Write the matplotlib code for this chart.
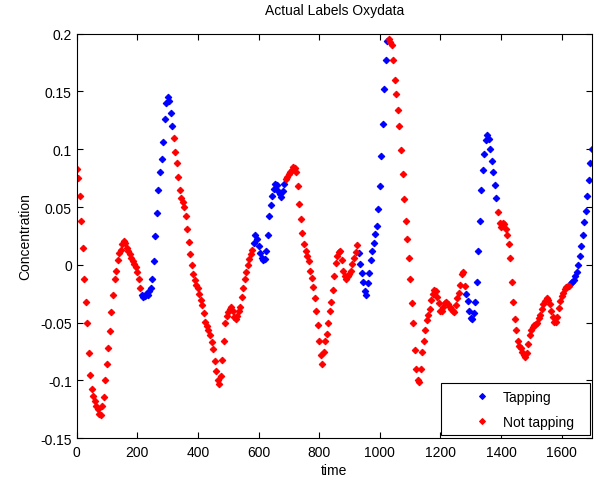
import numpy as np
import matplotlib
matplotlib.use("Agg")
import matplotlib.pyplot as plt
from matplotlib.lines import Line2D

plt.rcParams['font.family'] = ['Liberation Sans', 'DejaVu Sans']

sample_step = 5
conc = [
    0.083, 0.075, 0.060, 0.038, 0.015, -0.012, -0.032, -0.050, -0.076, -0.095,      # 0-45
    -0.107, -0.113, -0.118, -0.122, -0.125, -0.129, -0.130, -0.122, -0.114, -0.100,  # 50-95
    -0.086, -0.072, -0.057, -0.041, -0.026, -0.012, -0.005, 0.004, 0.010, 0.013,     # 100-145
    0.018, 0.021, 0.019, 0.015, 0.012, 0.009, 0.006, 0.003, 0.001, -0.002,           # 150-195
    -0.006, -0.012, -0.020, -0.026, -0.028, -0.027, -0.025, -0.026, -0.023, -0.020,  # 200-245
    -0.012, 0.003, 0.025, 0.045, 0.065, 0.080, 0.092, 0.106, 0.126, 0.140,           # 250-295
    0.145, 0.142, 0.131, 0.120, 0.110, 0.098, 0.088, 0.076, 0.065, 0.058,            # 300-345
    0.054, 0.050, 0.042, 0.031, 0.020, 0.009, 0.000, -0.008, -0.013, -0.017,         # 350-395
    -0.020, -0.025, -0.030, -0.035, -0.042, -0.049, -0.053, -0.056, -0.061, -0.067,  # 400-445
    -0.073, -0.083, -0.092, -0.100, -0.103, -0.096, -0.082, -0.066, -0.050, -0.044,  # 450-495
    -0.041, -0.038, -0.036, -0.040, -0.045, -0.047, -0.044, -0.040, -0.036, -0.028,  # 500-545
    -0.020, -0.012, -0.006, 0.000, 0.005, 0.009, 0.013, 0.019, 0.026, 0.022,         # 550-595
    0.016, 0.010, 0.006, 0.004, 0.005, 0.012, 0.026, 0.042, 0.052, 0.060,            # 600-645
    0.066, 0.070, 0.069, 0.064, 0.061, 0.059, 0.064, 0.070, 0.074, 0.076,            # 650-695
    0.079, 0.080, 0.082, 0.085, 0.084, 0.080, 0.068, 0.053, 0.040, 0.028,            # 700-745
    0.018, 0.012, 0.008, 0.003, -0.005, -0.011, -0.019, -0.029, -0.040, -0.052,      # 750-795
    -0.066, -0.078, -0.086, -0.075, -0.066, -0.060, -0.050, -0.040, -0.032, -0.022,  # 800-845
    -0.010, 0.002, 0.008, 0.011, 0.012, 0.004, -0.005, -0.010, -0.012, -0.010,       # 850-895
    -0.008, -0.005, 0.001, 0.006, 0.011, 0.017, 0.010, 0.001, -0.007, -0.015,        # 900-945
    -0.023, -0.026, -0.016, -0.007, 0.004, 0.012, 0.019, 0.027, 0.034, 0.048,        # 950-995
    0.068, 0.094, 0.122, 0.152, 0.177, 0.194, 0.195, 0.193, 0.190, 0.177,            # 1000-1045
    0.160, 0.148, 0.134, 0.120, 0.099, 0.079, 0.057, 0.038, 0.022, 0.006,            # 1050-1095
    -0.012, -0.033, -0.050, -0.074, -0.090, -0.100, -0.101, -0.090, -0.075, -0.066,  # 1100-1145
    -0.056, -0.048, -0.043, -0.038, -0.030, -0.025, -0.022, -0.023, -0.028, -0.033,  # 1150-1195
    -0.040, -0.040, -0.036, -0.033, -0.032, -0.034, -0.036, -0.038, -0.040, -0.041,  # 1200-1245
    -0.035, -0.029, -0.024, -0.017, -0.008, -0.006, -0.018, -0.025, -0.031, -0.040,  # 1250-1295
    -0.046, -0.047, -0.042, -0.032, -0.015, 0.012, 0.038, 0.065, 0.082, 0.096,       # 1300-1345
    0.108, 0.112, 0.109, 0.100, 0.090, 0.080, 0.069, 0.058, 0.046, 0.036,            # 1350-1395
    0.033, 0.036, 0.035, 0.031, 0.026, 0.018, 0.006, -0.015, -0.032, -0.047,         # 1400-1445
    -0.056, -0.066, -0.070, -0.072, -0.075, -0.078, -0.080, -0.076, -0.068, -0.061,  # 1450-1495
    -0.056, -0.054, -0.052, -0.051, -0.050, -0.046, -0.043, -0.038, -0.034, -0.031,  # 1500-1545
    -0.029, -0.030, -0.034, -0.040, -0.045, -0.049, -0.049, -0.045, -0.037, -0.031,  # 1550-1595
    -0.027, -0.024, -0.021, -0.019, -0.018, -0.018, -0.016, -0.015, -0.013, -0.010,  # 1600-1645
    -0.006, 0.000, 0.008, 0.016, 0.026, 0.037, 0.047, 0.060, 0.073, 0.088,           # 1650-1695
    0.100,                                                                           # 1700
]

# Time intervals labelled as "Tapping"
tapping_intervals = [(212, 316), (583, 687), (928, 1028), (1285, 1386), (1630, 1700)]

series_labels = ["Tapping", "Not tapping"]
series_colors = ["#0000ff", "#ff0000"]

x_ticks = [0, 200, 400, 600, 800, 1000, 1200, 1400, 1600]
y_ticks = [-0.15, -0.1, -0.05, 0, 0.05, 0.1, 0.15, 0.2]
y_tick_labels = ["-0.15", "-0.1", "-0.05", "0", "0.05", "0.1", "0.15", "0.2"]

time = np.arange(len(conc)) * sample_step
conc = np.array(conc)
is_tap = np.zeros(len(time), dtype=bool)
for a, b in tapping_intervals:
    is_tap |= (time >= a) & (time <= b)

fig = plt.figure(figsize=(5.94, 4.81), dpi=100)
ax = fig.add_axes([0.129, 0.0867, 0.8676, 0.8412])

mk = dict(linestyle="none", marker="D", markersize=3.3, markeredgewidth=0.8)
ax.plot(time[is_tap], conc[is_tap], color=series_colors[0], **mk)
ax.plot(time[~is_tap], conc[~is_tap], color=series_colors[1], **mk)

ax.set_xlim(0, 1700)
ax.set_ylim(-0.15, 0.2)
ax.set_xticks(x_ticks)
ax.set_xticklabels([str(v) for v in x_ticks])
ax.set_yticks(y_ticks)
ax.set_yticklabels(y_tick_labels)
ax.tick_params(direction="in", top=True, right=True, length=4, width=0.8,
               labelsize=10, colors="black")
ax.tick_params(axis="x", pad=5)
for s in ax.spines.values():
    s.set_linewidth(0.8)

ax.set_title("Actual Labels Oxydata", fontsize=10, pad=14)
ax.set_xlabel("time", fontsize=10, labelpad=3)
ax.set_ylabel("Concentration", fontsize=10, labelpad=6)

handles = [Line2D([], [], color=c, linestyle="none", marker="D",
                  markersize=3.0, markeredgewidth=0.8) for c in series_colors]
leg = ax.legend(handles, series_labels, loc="lower left",
                bbox_to_anchor=(0.707, 0.008, 0.289, 0.2), mode="expand",
                fontsize=10, frameon=True, fancybox=False, edgecolor="black",
                framealpha=1, borderaxespad=0, borderpad=0.45,
                handlelength=5.0, handletextpad=-0.98, labelspacing=0.8)
leg.get_frame().set_linewidth(0.8)

fig.savefig("out.png", dpi=100)
